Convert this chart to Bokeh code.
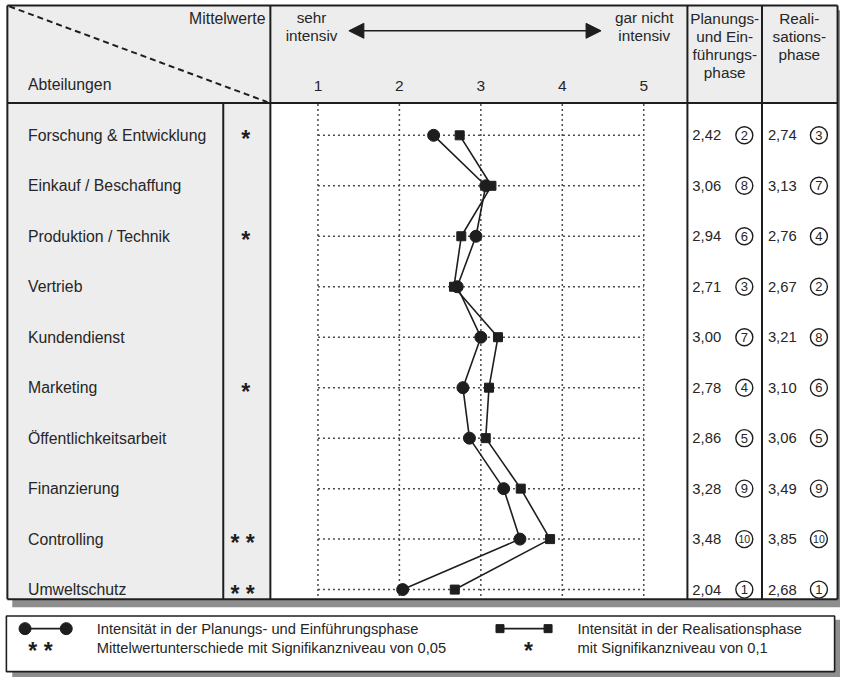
from bokeh.plotting import figure
from bokeh.models import Range1d, Arrow, NormalHead
from bokeh.embed import file_html
from bokeh.resources import INLINE
from bokeh.core.properties import value

# ---------------- data ----------------
departments = ["Forschung & Entwicklung", "Einkauf / Beschaffung", "Produktion / Technik",
               "Vertrieb", "Kundendienst", "Marketing", "Öffentlichkeitsarbeit",
               "Finanzierung", "Controlling", "Umweltschutz"]
significance = ["*", "", "*", "", "", "*", "", "", "* *", "* *"]
planung = [2.42, 3.06, 2.94, 2.71, 3.00, 2.78, 2.86, 3.28, 3.48, 2.04]
realisation = [2.74, 3.13, 2.76, 2.67, 3.21, 3.10, 3.06, 3.49, 3.85, 2.68]
rank_planung = [2, 8, 6, 3, 7, 4, 5, 9, 10, 1]
rank_realisation = [3, 7, 4, 2, 8, 6, 5, 9, 10, 1]
scale_ticks = [1, 2, 3, 4, 5]
scale_left = ["sehr", "intensiv"]
scale_right = ["gar nicht", "intensiv"]
col_planung = ["Planungs-", "und Ein-", "führungs-", "phase"]
col_realisation = ["Reali-", "sations-", "phase"]
legend_texts = ["Intensität in der Planungs- und Einführungsphase",
                "Intensität in der Realisationsphase",
                "Mittelwertunterschiede mit Signifikanzniveau von 0,05",
                "mit Signifikanzniveau von 0,1"]

# ---------------- layout helpers (reference page pixels -> data units) ----------------
def X(px):
    return 1 + (px - 323.5) / 83.0

def Y(py):
    return (py - 138.0) / 51.667

FONT = value("Liberation Sans")
INK = "#1e1e1e"
TXT = "#262626"
rows = list(range(len(departments)))

p = figure(width=840, height=677, output_backend="svg", toolbar_location=None,
           x_range=Range1d(X(0), X(856)), y_range=Range1d(Y(693), Y(0)),
           min_border=0, outline_line_color=None, background_fill_color="white",
           border_fill_color="white")
p.xaxis.visible = False
p.yaxis.visible = False
p.xgrid.visible = False
p.ygrid.visible = False

# shadows
p.quad(left=[X(12), X(12)], right=[X(856), X(856)], top=[Y(10), Y(634)],
       bottom=[Y(621), Y(693)], fill_color="#8e8e8e", line_color=None)
# table background
p.quad(left=X(7), right=X(853), top=Y(5), bottom=Y(613), fill_color="#ededed", line_color=None)
p.quad(left=[X(275), X(700)], right=[X(700), X(853)], top=[Y(105), Y(105)],
       bottom=[Y(613), Y(613)], fill_color="white", line_color=None)
# legend box
p.quad(left=X(6), right=X(850), top=Y(630), bottom=Y(687), fill_color="white",
       line_color=INK, line_width=1.6)

# grid (dotted)
p.segment(x0=scale_ticks, x1=scale_ticks, y0=[Y(106)] * 5, y1=[Y(612)] * 5,
          line_color="#4a4a4a", line_width=1.5, line_dash=value("2 3"))
p.segment(x0=[scale_ticks[0]] * len(rows), x1=[scale_ticks[-1]] * len(rows), y0=rows, y1=rows,
          line_color="#4a4a4a", line_width=1.5, line_dash=value("2 3"))

# frame lines
seg_x0 = [X(7), X(7), X(853), X(7), X(7), X(275), X(700), X(776), X(227)]
seg_x1 = [X(853), X(853), X(853), X(7), X(853), X(275), X(700), X(776), X(227)]
seg_y0 = [Y(5), Y(613), Y(5), Y(5), Y(105), Y(5), Y(5), Y(5), Y(105)]
seg_y1 = [Y(5), Y(613), Y(613), Y(613), Y(105), Y(613), Y(613), Y(613), Y(613)]
p.segment(x0=seg_x0, x1=seg_x1, y0=seg_y0, y1=seg_y1, line_color=INK, line_width=2)
# dashed diagonal
p.line(x=[X(9), X(272)], y=[Y(6), Y(104)], line_color=INK, line_width=2, line_dash="6 4")

# double-headed arrow
p.add_layout(Arrow(start=NormalHead(size=15, fill_color=INK, line_color=INK),
                   end=NormalHead(size=15, fill_color=INK, line_color=INK),
                   x_start=X(355), x_end=X(612), y_start=Y(31), y_end=Y(31),
                   line_color=INK, line_width=1.5))

# header texts
p.text(x=[X(270)], y=[Y(18)], text=["Mittelwerte"], text_align="right", text_baseline="middle",
       text_font=FONT, text_font_size="15.8px", text_color=TXT)
p.text(x=[X(28)], y=[Y(86)], text=["Abteilungen"], text_align="left", text_baseline="middle",
       text_font=FONT, text_font_size="15.8px", text_color=TXT)
p.text(x=scale_ticks, y=[Y(88)] * 5, text=[str(t) for t in scale_ticks], text_align="center",
       text_baseline="middle", text_font=FONT, text_font_size="15.5px", text_color=TXT)
p.text(x=[X(317)] * 2, y=[Y(17), Y(36)], text=scale_left, text_align="center",
       text_baseline="middle", text_font=FONT, text_font_size="15.3px", text_color=TXT)
p.text(x=[X(656)] * 2, y=[Y(17), Y(36)], text=scale_right, text_align="center",
       text_baseline="middle", text_font=FONT, text_font_size="15.3px", text_color=TXT)
p.text(x=[X(738)] * 4, y=[Y(18), Y(36.5), Y(55), Y(73.5)], text=col_planung, text_align="center",
       text_baseline="middle", text_font=FONT, text_font_size="15.3px", text_color=TXT)
p.text(x=[X(814)] * 3, y=[Y(18), Y(36.5), Y(55)], text=col_realisation, text_align="center",
       text_baseline="middle", text_font=FONT, text_font_size="15.3px", text_color=TXT)

# row labels and significance stars
p.text(x=[X(28)] * len(rows), y=rows, text=departments, text_align="left", text_baseline="middle",
       text_font=FONT, text_font_size="15.8px", text_color=TXT)
p.text(x=[X(250)] * len(rows), y=rows, text=[s.replace(" ", "  ") for s in significance],
       text_align="center", text_baseline="middle", y_offset=4, text_font_style="bold",
       text_font=FONT, text_font_size="23px", text_color=INK)

# series
p.line(x=planung, y=rows, line_color=INK, line_width=1.6)
p.line(x=realisation, y=rows, line_color=INK, line_width=1.6)
p.scatter(x=planung, y=rows, marker="circle", size=12, fill_color=INK, line_color=INK)
p.scatter(x=realisation, y=rows, marker="square", size=9, fill_color=INK, line_color=INK)

# value columns
fmt = lambda v: f"{v:.2f}".replace(".", ",")
p.text(x=[X(705)] * len(rows), y=rows, text=[fmt(v) for v in planung], text_align="left",
       text_baseline="middle", text_font=FONT, text_font_size="14.8px", text_color=TXT)
p.text(x=[X(782)] * len(rows), y=rows, text=[fmt(v) for v in realisation], text_align="left",
       text_baseline="middle", text_font=FONT, text_font_size="14.8px", text_color=TXT)
p.scatter(x=[X(758)] * len(rows), y=rows, marker="circle", size=17, fill_color="white",
          line_color=INK, line_width=1.4)
p.scatter(x=[X(834)] * len(rows), y=rows, marker="circle", size=17, fill_color="white",
          line_color=INK, line_width=1.4)
rank_fs = lambda r: "10.5px" if r >= 10 else "13px"
p.text(x=[X(758)] * len(rows), y=rows, text=[str(r) for r in rank_planung], text_align="center",
       text_baseline="middle", text_font=FONT, text_font_size=[rank_fs(r) for r in rank_planung],
       text_color=TXT)
p.text(x=[X(834)] * len(rows), y=rows, text=[str(r) for r in rank_realisation], text_align="center",
       text_baseline="middle", text_font=FONT, text_font_size=[rank_fs(r) for r in rank_realisation],
       text_color=TXT)

# legend
p.line(x=[X(25), X(67)], y=[Y(643)] * 2, line_color=INK, line_width=1.6)
p.scatter(x=[X(25), X(67)], y=[Y(643)] * 2, marker="circle", size=12, fill_color=INK, line_color=INK)
p.line(x=[X(509), X(558)], y=[Y(643)] * 2, line_color=INK, line_width=1.6)
p.scatter(x=[X(509), X(558)], y=[Y(643)] * 2, marker="square", size=8, fill_color=INK, line_color=INK)
p.text(x=[X(44), X(538)], y=[Y(662)] * 2, text=["*  *", "*"], text_align="center",
       text_baseline="middle", y_offset=4, text_font_style="bold", text_font=FONT,
       text_font_size="23px", text_color=INK)
p.text(x=[X(98), X(588), X(98), X(588)], y=[Y(643), Y(643), Y(663), Y(663)], text=legend_texts,
       text_align="left", text_baseline="middle", text_font=FONT, text_font_size="14.7px",
       text_color=TXT)

open("out.html", "w").write(file_html(p, INLINE))
